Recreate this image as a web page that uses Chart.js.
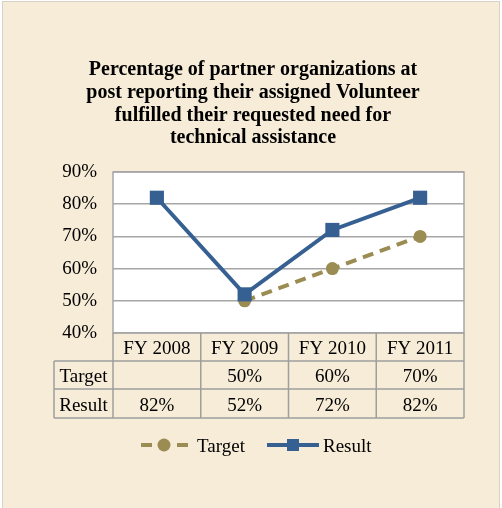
<!DOCTYPE html>
<html>
<head>
<meta charset="utf-8">
<script src="https://cdn.jsdelivr.net/npm/chart.js@4.4.0/dist/chart.umd.min.js"></script>
<style>
  html, body { margin: 0; padding: 0; background: #fff; }
  canvas { display: block; }
</style>
</head>
<body>
<canvas id="chart" width="502" height="508"></canvas>
<script>
// data
var years = ['FY 2008', 'FY 2009', 'FY 2010', 'FY 2011'];
var targetValues = [null, 50, 60, 70];
var resultValues = [82, 52, 72, 82];
var seriesNames = ['Target', 'Result'];
var yTicks = [40, 50, 60, 70, 80, 90];
var titleLines = [
  'Percentage of partner organizations at',
  'post reporting their assigned Volunteer',
  'fulfilled their requested need for',
  'technical assistance'
];

var BG = '#f6ecd7';
var OLIVE = '#9b8c53';
var BLUE = '#376092';
var GRID = '#a6a6a6';
var SERIF = '"Liberation Serif", "Times New Roman", serif';

// table rows under the plot: header + one row per series
var rowHeights = [28, 28, 29];
var labelColLeft = 54;

function pct(v) {
  return v == null ? '' : v + '%';
}

var tablePlugin = {
  id: 'tablePlugin',
  beforeDraw: function (chart) {
    var ctx = chart.ctx;
    var a = chart.chartArea;
    ctx.save();
    ctx.fillStyle = BG;
    ctx.fillRect(2, 1, chart.width - 4, chart.height);
    ctx.strokeStyle = '#d6d2ca';
    ctx.lineWidth = 1;
    ctx.strokeRect(2.5, 1.5, chart.width - 5, chart.height + 5);
    ctx.fillStyle = '#ffffff';
    ctx.fillRect(a.left, a.top, a.right - a.left, a.bottom - a.top);
    ctx.restore();
  },
  beforeDatasetsDraw: function (chart) {
    var ctx = chart.ctx;
    var a = chart.chartArea;
    ctx.save();
    ctx.strokeStyle = GRID;
    ctx.lineWidth = 1.5;
    ctx.strokeRect(a.left, a.top, a.right - a.left, a.bottom - a.top);
    ctx.restore();
  },
  afterDraw: function (chart) {
    var ctx = chart.ctx;
    var a = chart.chartArea;
    var xs = chart.scales.x;
    var n = years.length;
    var colW = (a.right - a.left) / n;
    var rows = [years, targetValues.map(pct), resultValues.map(pct)];
    var names = [''].concat(seriesNames);

    var tops = [a.bottom];
    for (var r = 0; r < rowHeights.length; r++) tops.push(tops[r] + rowHeights[r]);
    var bottom = tops[tops.length - 1];

    ctx.save();
    ctx.strokeStyle = '#9e9e9e';
    ctx.lineWidth = 1.5;
    ctx.beginPath();
    // horizontal lines
    for (var i = 1; i < tops.length; i++) {
      ctx.moveTo(labelColLeft, tops[i]);
      ctx.lineTo(a.right, tops[i]);
    }
    // vertical lines
    for (var c = 0; c <= n; c++) {
      var x = a.left + c * colW;
      ctx.moveTo(x, a.bottom);
      ctx.lineTo(x, bottom);
    }
    ctx.moveTo(labelColLeft, tops[1]);
    ctx.lineTo(labelColLeft, bottom);
    ctx.stroke();

    ctx.fillStyle = '#000';
    ctx.font = '19px ' + SERIF;
    ctx.textAlign = 'center';
    ctx.textBaseline = 'alphabetic';
    for (var r2 = 0; r2 < rows.length; r2++) {
      var yBase = tops[r2] + rowHeights[r2] / 2 + 7;
      if (names[r2]) {
        ctx.fillText(names[r2], (labelColLeft + a.left) / 2, yBase);
      }
      for (var k = 0; k < n; k++) {
        ctx.fillText(rows[r2][k], xs.getPixelForValue(k), yBase);
      }
    }

    // legend
    var ly = 445;
    var ds = chart.data.datasets;
    ctx.lineWidth = 4;
    ctx.strokeStyle = ds[0].borderColor;
    ctx.setLineDash([11, 7]);
    ctx.beginPath();
    ctx.moveTo(141, ly);
    ctx.lineTo(188, ly);
    ctx.stroke();
    ctx.setLineDash([]);
    ctx.fillStyle = ds[0].borderColor;
    ctx.beginPath();
    ctx.arc(164, ly, 6.5, 0, Math.PI * 2);
    ctx.fill();

    ctx.strokeStyle = ds[1].borderColor;
    ctx.beginPath();
    ctx.moveTo(267, ly);
    ctx.lineTo(319, ly);
    ctx.stroke();
    ctx.fillStyle = ds[1].borderColor;
    ctx.fillRect(287, ly - 6, 12, 12);

    ctx.fillStyle = '#000';
    ctx.textAlign = 'left';
    ctx.fillText(ds[0].label, 197, ly + 7);
    ctx.fillText(ds[1].label, 323, ly + 7);
    ctx.restore();
  }
};

new Chart(document.getElementById('chart'), {
  type: 'line',
  data: {
    labels: years,
    datasets: [
      {
        label: seriesNames[0],
        data: targetValues,
        borderColor: OLIVE,
        backgroundColor: OLIVE,
        borderWidth: 4,
        borderDash: [11, 7],
        pointStyle: 'circle',
        pointRadius: 6.5,
        pointBorderWidth: 0,
        order: 1
      },
      {
        label: seriesNames[1],
        data: resultValues,
        borderColor: BLUE,
        backgroundColor: BLUE,
        borderWidth: 4,
        pointStyle: 'rect',
        pointRadius: 10,
        pointBorderWidth: 0,
        order: 0
      }
    ]
  },
  options: {
    responsive: false,
    animation: false,
    devicePixelRatio: 1,
    layout: { padding: { left: 42, right: 38, top: 0, bottom: 175 } },
    plugins: {
      legend: { display: false },
      tooltip: { enabled: false },
      title: {
        display: true,
        text: titleLines,
        color: '#000',
        font: { family: SERIF, size: 20, weight: 'bold', lineHeight: 1.135 },
        padding: { top: 58.6, bottom: 22.6 }
      }
    },
    scales: {
      x: {
        display: false,
        offset: true
      },
      y: {
        min: yTicks[0],
        max: yTicks[yTicks.length - 1],
        afterBuildTicks: function (scale) {
          scale.ticks = yTicks.map(function (v) { return { value: v }; });
        },
        afterFit: function (scale) { scale.width = 71; },
        border: { display: false },
        grid: { color: GRID, lineWidth: 1.5, drawTicks: false },
        ticks: {
          padding: 16,
          color: '#000',
          font: { family: SERIF, size: 19 },
          callback: function (v) { return v + '%'; }
        }
      }
    }
  },
  plugins: [tablePlugin]
});
</script>
</body>
</html>
